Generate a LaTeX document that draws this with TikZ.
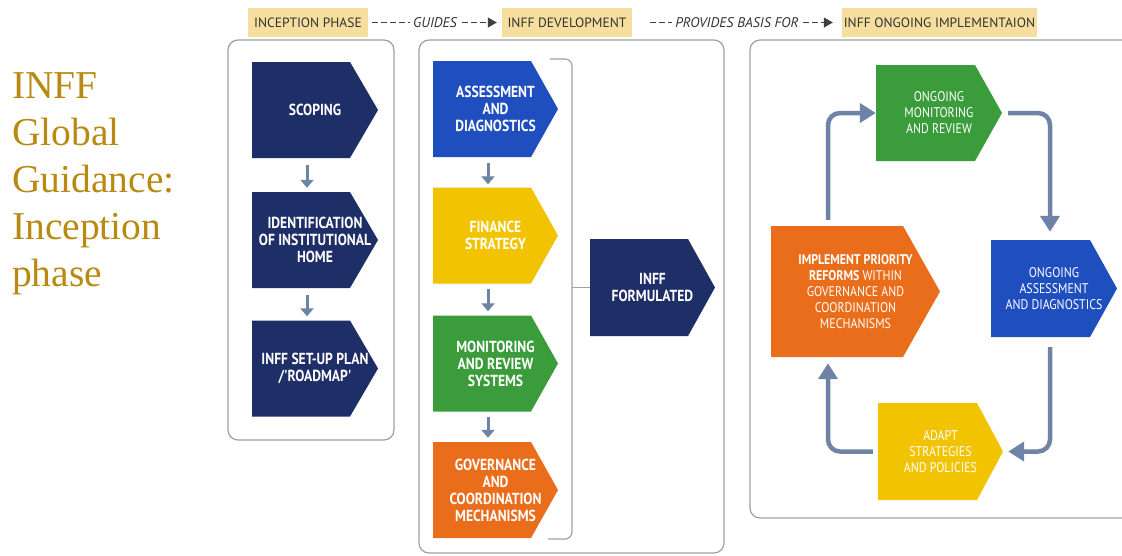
\documentclass[tikz,border=0pt]{standalone}
\usepackage{fontspec}
\usepackage{tikz}
\usetikzlibrary{arrows.meta}

\setsansfont{PT Sans}
\newfontfamily\boxfont[FakeStretch=0.85]{PT Sans}
\newfontfamily\titlefont{Liberation Serif}

\definecolor{navy}{HTML}{1E2E66}
\definecolor{royal}{HTML}{1F4EBE}
\definecolor{sun}{HTML}{F2C300}
\definecolor{leaf}{HTML}{3B9C3B}
\definecolor{tang}{HTML}{E96D1B}
\definecolor{slate}{HTML}{6E84A6}
\definecolor{cream}{HTML}{F6DF9E}
\definecolor{gold}{HTML}{B88A12}
\definecolor{framegray}{HTML}{A0A0A0}

\tikzset{
  chev/.style n args={2}{minimum width=126pt, minimum height=96pt, inner sep=0pt, align=center, text=white,
    font=\boxfont\bfseries\fontsize{16}{17}\selectfont,
    path picture={\fill[#1] (path picture bounding box.south west) -- ([xshift=-#2]path picture bounding box.south east)
      -- (path picture bounding box.east) -- ([xshift=-#2]path picture bounding box.north east)
      -- (path picture bounding box.north west) -- cycle;}},
  small/.style={font=\boxfont\fontsize{14}{16}\selectfont},
  hdr/.style={fill=cream, minimum height=29pt, inner sep=0pt, text=black!80, font=\sffamily\fontsize{13.5}{15}\selectfont},
  guide/.style={draw=black!75, line width=1.1pt, dash pattern=on 6pt off 3pt, -{Triangle[length=9pt,width=10pt]}},
  guidetext/.style={fill=white, inner sep=3pt, text=black!80, font=\sffamily\itshape\fontsize{14}{16}\selectfont},
  panel/.style={draw=framegray, line width=1.2pt, rounded corners=10pt},
  flow/.style={draw=slate, line width=3pt, -{Triangle[length=8pt,width=13pt]}},
  cycarrow/.style={draw=slate, line width=4.5pt, rounded corners=12pt, -{Triangle[length=16pt,width=19pt]}},
  title/.style={inner sep=0pt, align=left, text=gold, font=\titlefont\fontsize{39.5}{47}\selectfont}
}

\begin{document}
\begin{tikzpicture}[x=1pt,y=-1pt]
			\fill[white] (0,0) rectangle (1122,555);
			\useasboundingbox (0,0) rectangle (1122,555);

			\node[title, anchor=north west] (title) at (12,72) {INFF\\Global\\Guidance:\\Inception\\phase};

			\draw[panel] (228,40) rectangle (394,440);
			\draw[panel] (419,40) rectangle (724,553);
			\draw[panel] (750,40) rectangle (1140,518);

			\node[hdr, minimum width=120pt] (inception) at (308,22.5) {INCEPTION PHASE};
			\node[hdr, minimum width=130pt] (development) at (567,22.5) {INFF DEVELOPMENT};
			\node[hdr, minimum width=195pt] (ongoing) at (939.5,22.5) {INFF ONGOING IMPLEMENTAION};
			\draw[guide, shorten <=4pt, shorten >=5pt] (inception) -- node[guidetext] {GUIDES} (development);
			\draw[guide, shorten <=18pt, shorten >=9pt] (development) -- node[guidetext] {PROVIDES BASIS FOR} (ongoing);

			\node[chev={navy}{28pt}] (scoping) at (315,110) {SCOPING};
			\node[chev={navy}{28pt}] (ident) at (315,240) {IDENTIFICATION\\OF INSTITUTIONAL\\HOME};
			\node[chev={navy}{28pt}] (setup) at (315,368.5) {INFF SET-UP PLAN\\/'ROADMAP'};
			\draw[flow] ([xshift=-8pt,yshift=-7pt]scoping.south) -- ([xshift=-8pt,yshift=4pt]ident.north);
			\draw[flow] ([xshift=-8pt,yshift=-7pt]ident.south) -- ([xshift=-8pt,yshift=4pt]setup.north);

			\node[chev={royal}{27pt}, minimum width=125pt] (assess) at (495.5,109) {ASSESSMENT\\AND\\DIAGNOSTICS};
			\node[chev={sun}{27pt}, minimum width=125pt] (finance) at (495.5,235.5) {FINANCE\\STRATEGY};
			\node[chev={leaf}{27pt}, minimum width=125pt] (monitor) at (495.5,363.5) {MONITORING\\AND REVIEW\\SYSTEMS};
			\node[chev={tang}{27pt}, minimum width=125pt] (govern) at (495.5,490) {GOVERNANCE\\AND\\COORDINATION\\MECHANISMS};
			\draw[flow] ([xshift=-7.5pt,yshift=-6pt]assess.south) -- ([xshift=-7.5pt,yshift=3pt]finance.north);
			\draw[flow] ([xshift=-7.5pt,yshift=-5pt]finance.south) -- ([xshift=-7.5pt,yshift=4pt]monitor.north);
			\draw[flow] ([xshift=-7.5pt,yshift=-5pt]monitor.south) -- ([xshift=-7.5pt,yshift=4pt]govern.north);

			\node[chev={navy}{27pt}, minimum width=125pt, minimum height=97pt] (formulated) at (652.5,287.5) {INFF\\FORMULATED};
			\draw[framegray, line width=1.2pt, rounded corners=7pt] (550,59) -- (572,59) -- (572,539) -- (548,539);
			\draw[framegray, line width=1.2pt] (formulated.west) -- ++(-18,0);

			\node[chev={leaf}{27pt}, small] (ongmon) at (939,113) {ONGOING\\MONITORING\\AND REVIEW};
			\node[chev={tang}{37pt}, small, minimum width=169pt, minimum height=131pt] (implement) at (855.5,291.5)
				{\textbf{IMPLEMENT PRIORITY}\\\textbf{REFORMS} WITHIN\\GOVERNANCE AND\\COORDINATION\\MECHANISMS};
			\node[chev={royal}{27pt}, small, minimum height=97pt] (ongassess) at (1054,288.5) {ONGOING\\ASSESSMENT\\AND DIAGNOSTICS};
			\node[chev={sun}{26pt}, small, minimum width=125pt, minimum height=97pt] (adapt) at (940.5,451.5) {ADAPT\\STRATEGIES\\AND POLICIES};

			\draw[cycarrow] ([xshift=-27.5pt,yshift=6pt]implement.north) |- (ongmon.west);
			\draw[cycarrow] ([xshift=6pt]ongmon.east) -| ([xshift=-4pt,yshift=8pt]ongassess.north);
			\draw[cycarrow] ([xshift=-4pt,yshift=-10pt]ongassess.south) |- ([xshift=5pt]adapt.east);
			\draw[cycarrow] ([xshift=-5pt]adapt.west) -| ([xshift=-27.5pt,yshift=-6pt]implement.south);
\end{tikzpicture}
\end{document}
